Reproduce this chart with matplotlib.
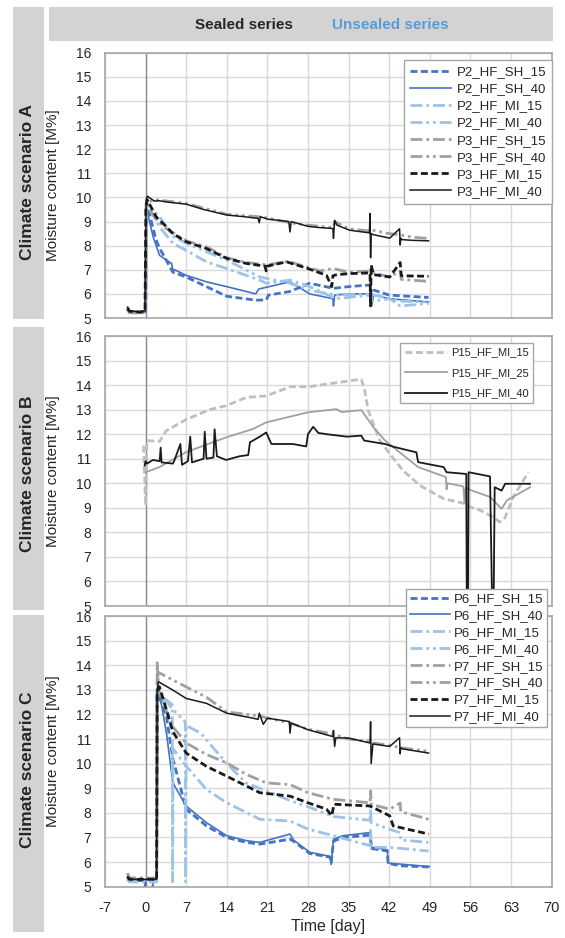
import matplotlib
matplotlib.use("Agg")
import matplotlib.pyplot as plt
from matplotlib.patches import Rectangle

plt.rcParams['font.family'] = ['Liberation Sans', 'DejaVu Sans']
plt.rcParams['axes.unicode_minus'] = False

# ---- Climate scenario A ----
a_p2_sh15_d = [-3.1, -2.8, -1, 0, 0.2, 1.8, 2.4, 4.7, 7, 10.5, 14, 19, 20.8, 21.2, 24.9, 28.3, 32.4, 35, 38.7, 39.3, 42, 48.8]
a_p2_sh15_v = [5.4, 5.25, 5.22, 5.25, 9.75, 8.24, 7.9, 6.9, 6.7, 6.3, 5.9, 5.74, 5.75, 5.95, 6.1, 6.44, 6.23, 6.3, 6.37, 6.16, 5.95, 5.85]
a_p2_sh40_d = [-3.1, -2.8, -1, 0, 0.2, 1.3, 2.4, 4.5, 4.7, 5, 7, 10.5, 14, 19, 19.5, 24.9, 28.3, 32.3, 32.4, 32.6, 35, 38.8, 39, 39.3, 42.1, 48.8]
a_p2_sh40_v = [5.4, 5.25, 5.22, 5.25, 9.47, 8.37, 7.6, 7.26, 6.98, 7.0, 6.77, 6.5, 6.3, 6.0, 6.2, 6.5, 6.0, 5.8, 5.5, 5.95, 6.0, 6.0, 5.5, 5.95, 5.8, 5.66]
a_p2_mi15_d = [-3.1, -2.8, -1, 0, 0.2, 2.4, 4.7, 7, 10.5, 14, 19.7, 20.8, 24.9, 28.3, 32.8, 38.7, 39, 42.1, 43.9, 48.8]
a_p2_mi15_v = [5.45, 5.28, 5.25, 5.28, 9.75, 8.78, 8.1, 7.8, 7.33, 7.05, 6.57, 6.44, 6.57, 6.3, 5.8, 5.95, 5.7, 5.8, 5.5, 5.6]
a_p2_mi40_d = [-3.1, -2.8, -1, 0, 0.2, 2.4, 4.7, 7, 10.5, 14, 19.7, 24.9, 28.3, 32.8, 38.7, 42.1, 43.9, 48.8]
a_p2_mi40_v = [5.45, 5.28, 5.25, 5.28, 9.7, 9.2, 8.4, 8.1, 7.75, 7.4, 6.7, 6.44, 6.15, 5.95, 6.0, 5.8, 5.7, 5.66]
a_p3_sh15_d = [-3.1, -2.8, -1, 0, 0.1, 1.8, 3.6, 7, 10.5, 14, 17.4, 21, 24.5, 28, 30, 32.4, 35, 38.8, 39, 42, 43.9, 44.1, 48.8]
a_p3_sh15_v = [5.35, 5.22, 5.2, 5.22, 9.7, 9.1, 8.7, 8.2, 7.95, 7.5, 7.3, 7.2, 7.35, 7.1, 6.95, 7.05, 6.9, 6.95, 6.9, 6.7, 6.95, 6.6, 6.52]
a_p3_sh40_d = [-3.1, -2.8, -1, 0, 0.1, 2, 7, 14, 19.5, 21, 24.9, 28, 32.4, 32.6, 35, 38.8, 39, 42, 43.9, 46, 48.8]
a_p3_sh40_v = [5.35, 5.25, 5.22, 5.25, 9.8, 9.9, 9.75, 9.3, 9.2, 9.15, 8.95, 8.85, 8.75, 9.0, 8.7, 8.6, 8.65, 8.5, 8.45, 8.35, 8.3]
a_p3_mi15_d = [-3.1, -2.8, -1, -0.1, 0.05, 0.3, 1.8, 3.6, 4.7, 7, 10.5, 14, 17.4, 20.6, 20.8, 21, 24.3, 28, 31.2, 32.1, 32.3, 33, 35.2, 38.7, 38.8, 38.9, 39.3, 42.1, 43.9, 44.1, 48.8]
a_p3_mi15_v = [5.4, 5.28, 5.25, 5.28, 9.6, 9.9, 9.2, 8.78, 8.5, 8.16, 7.88, 7.47, 7.26, 7.15, 6.95, 7.15, 7.33, 7.05, 6.77, 6.3, 6.75, 6.8, 6.84, 6.87, 5.5, 7.2, 6.8, 6.7, 7.3, 6.75, 6.73]
a_p3_mi40_d = [-3.1, -2.8, -1, -0.1, 0.1, 0.3, 1.5, 2.4, 4, 7, 10, 14, 17, 19.4, 19.6, 19.8, 21, 24.7, 24.9, 25.1, 28, 30, 32.3, 32.4, 32.6, 33, 35.2, 38.6, 38.7, 38.8, 38.9, 39.2, 42.1, 43.8, 43.9, 44.0, 44.2, 46, 48.8]
a_p3_mi40_v = [5.45, 5.3, 5.25, 5.3, 9.9, 10.05, 9.85, 9.86, 9.8, 9.72, 9.5, 9.27, 9.2, 9.13, 8.95, 9.2, 9.1, 9.0, 8.57, 9.0, 8.8, 8.75, 8.71, 8.3, 9.05, 8.85, 8.64, 8.53, 9.33, 7.5, 8.5, 8.46, 8.31, 8.7, 8.03, 8.3, 8.25, 8.22, 8.2]

# ---- Climate scenario B ----
b_mi15_d = [-0.35, 0, 0.23, 2.4, 3.57, 7.0, 11.05, 13.9, 17.4, 20.8, 24.9, 28.0, 32.4, 37.2, 37.8, 38.4, 40.4, 42.1, 44.4, 47.3, 51.4, 55.1, 56.0, 57.7, 59.4, 61.1, 62.0, 63.4, 66.0]
b_mi15_v = [11.53, 9.1, 11.74, 11.7, 12.14, 12.6, 13.0, 13.16, 13.5, 13.56, 13.93, 13.93, 14.08, 14.24, 13.77, 12.96, 11.74, 11.2, 10.52, 9.91, 9.37, 9.17, 9.03, 8.9, 8.69, 8.42, 8.6, 9.44, 10.45]
b_mi25_d = [0, 2.4, 7.0, 13.9, 18.5, 20.8, 28.0, 32.9, 33.8, 37.2, 39.3, 41.3, 42.7, 47.0, 51.8, 51.9, 52.1, 54.8, 55.0, 55.2, 59.4, 61.4, 62.3, 66.3]
b_mi25_v = [10.45, 10.66, 11.27, 11.87, 12.21, 12.48, 12.89, 13.02, 12.9, 12.98, 12.28, 11.74, 11.47, 10.66, 10.25, 9.75, 10.0, 9.87, 9.2, 9.8, 9.44, 8.96, 9.3, 9.84]
b_mi40_d = [-0.17, 0, 0.23, 1.27, 2.42, 2.6, 2.76, 4.72, 5.0, 6.0, 6.28, 7.3, 7.7, 8.0, 10.0, 10.2, 10.5, 11.7, 11.9, 12.3, 13.9, 16.2, 17.7, 18.0, 19.7, 20.8, 21.7, 25.4, 27.7, 28.0, 28.9, 29.8, 31.2, 34.7, 37.2, 37.7, 41.3, 42.7, 46.7, 47.0, 51.4, 51.9, 55.3, 55.4, 55.6, 55.7, 59.4, 59.8, 60.0, 60.2, 61.4, 62.0, 66.3]
b_mi40_v = [10.72, 10.9, 10.8, 10.95, 10.9, 11.45, 10.85, 10.8, 10.95, 11.6, 10.75, 10.9, 11.9, 10.85, 11.0, 12.1, 11.0, 11.05, 12.2, 11.1, 10.95, 11.1, 11.15, 11.67, 11.9, 12.07, 11.6, 11.6, 11.5, 12.0, 12.3, 12.05, 12.0, 11.9, 11.94, 11.74, 11.6, 11.49, 11.26, 10.86, 10.66, 10.45, 10.38, 4.5, 4.5, 10.45, 10.28, 4.5, 4.5, 9.84, 9.7, 9.98, 9.98]

# ---- Climate scenario C ----
c_p6_sh15_d = [-3.1, -2.8, -0.1, 0, 1.2, 1.3, 1.9, 2.0, 2.4, 3.6, 4.7, 7, 10.5, 14, 17.4, 19.7, 24.9, 25.5, 28.3, 31.8, 32.0, 32.4, 34, 38.7, 39.0, 41.7, 41.8, 44, 48.9]
c_p6_sh15_v = [5.35, 5.25, 5.25, 4.9, 4.9, 5.25, 5.25, 12.9, 12.7, 11.9, 10.2, 8.15, 7.47, 7.0, 6.8, 6.73, 6.93, 6.85, 6.35, 6.2, 5.95, 6.85, 7.0, 7.1, 6.55, 6.45, 5.95, 5.85, 5.8]
c_p6_sh40_d = [-3.1, -2.8, -0.1, 0, 1.2, 1.3, 1.9, 2.0, 2.4, 3.6, 4.7, 7, 10.5, 14, 17.4, 19.7, 24.9, 25.5, 28.3, 31.8, 32.0, 32.4, 34, 38.7, 39.0, 41.7, 41.8, 48.9]
c_p6_sh40_v = [5.35, 5.25, 5.25, 4.9, 4.9, 5.25, 5.25, 13.0, 12.85, 11.24, 9.22, 8.28, 7.6, 7.07, 6.87, 6.8, 7.14, 6.9, 6.4, 6.23, 5.9, 6.93, 7.07, 7.2, 6.6, 6.5, 5.96, 5.82]
c_p6_mi15_d = [-3.1, -2.8, 1.9, 2.0, 2.4, 4.6, 4.65, 4.75, 7, 10.5, 14, 19.7, 24.9, 28, 32.4, 38.7, 38.8, 38.9, 42.1, 48.8]
c_p6_mi15_v = [5.3, 5.2, 5.2, 12.8, 12.8, 12.4, 5.2, 10.6, 9.9, 8.95, 8.41, 7.74, 7.67, 7.34, 7.07, 6.67, 7.3, 6.6, 6.6, 6.45]
c_p6_mi40_d = [-3.1, -2.8, 1.9, 2.0, 2.4, 4.7, 6.85, 6.9, 7.0, 9.5, 14, 17.4, 20.8, 24.9, 28, 32.4, 38.7, 38.8, 38.9, 42.5, 43.9, 44.0, 48.8]
c_p6_mi40_v = [5.3, 5.2, 5.2, 13.0, 12.9, 12.2, 11.7, 5.2, 11.55, 11.24, 10.0, 9.2, 8.9, 8.5, 8.25, 7.85, 7.7, 8.3, 7.6, 7.3, 7.2, 6.9, 6.8]
c_p7_sh15_d = [-3.1, -2.8, -1, 1.9, 2.0, 2.1, 2.4, 4.7, 7, 10.5, 14, 17.4, 20.8, 24.9, 28, 32.4, 38.7, 38.8, 38.9, 42.1, 43.9, 44.0, 48.8]
c_p7_sh15_v = [5.55, 5.35, 5.35, 5.35, 14.1, 13.6, 12.85, 11.5, 10.84, 10.37, 10.03, 9.56, 9.22, 9.15, 8.82, 8.55, 8.41, 8.9, 8.35, 8.15, 8.4, 8.05, 7.74]
c_p7_sh40_d = [-3.1, -2.8, -1, 1.9, 2.0, 2.3, 4.7, 7, 10.5, 14, 19.5, 21, 24.9, 28, 32.4, 35, 38.8, 39, 42, 43.9, 48.8]
c_p7_sh40_v = [5.55, 5.35, 5.35, 5.35, 13.5, 13.7, 13.4, 13.12, 12.7, 12.1, 11.95, 11.85, 11.65, 11.4, 11.2, 11.0, 10.9, 10.85, 10.75, 10.65, 10.5]
c_p7_mi15_d = [-3.1, -2.8, -1, 1.9, 2.0, 2.4, 3.6, 4.7, 7, 10.5, 14, 17.4, 19.7, 24.9, 28, 31.2, 32.1, 32.5, 38.7, 42.1, 42.7, 48.8]
c_p7_mi15_v = [5.4, 5.3, 5.3, 5.3, 12.9, 13.12, 12.18, 11.3, 10.43, 9.89, 9.49, 9.09, 8.82, 8.68, 8.41, 8.15, 7.88, 8.35, 8.28, 7.88, 7.47, 7.14]
c_p7_mi40_d = [-3.1, -2.8, -1, 1.9, 2.0, 2.2, 4.7, 7.0, 10.5, 14, 18.5, 19.4, 19.6, 20.3, 21, 24.8, 24.9, 25.1, 28, 32.3, 32.4, 32.6, 32.8, 35, 38.7, 38.8, 38.9, 39.2, 42.1, 43.8, 43.9, 44.0, 44.3, 48.8]
c_p7_mi40_v = [5.4, 5.3, 5.3, 5.3, 13.0, 13.33, 12.99, 12.65, 12.45, 12.05, 11.85, 11.8, 12.05, 11.6, 11.85, 11.71, 11.24, 11.65, 11.38, 11.1, 11.35, 10.7, 11.05, 11.04, 10.84, 11.7, 10.0, 10.8, 10.7, 11.05, 10.4, 10.65, 10.6, 10.43]

x_ticks = [-7, 0, 7, 14, 21, 28, 35, 42, 49, 56, 63, 70]
y_ticks = [5, 6, 7, 8, 9, 10, 11, 12, 13, 14, 15, 16]

# colours / line styles (Excel look)
dblue = '#4472c4'
lblue = '#9dc3e6'
gray = '#a0a0a0'
black = '#1a1a1a'
dash = (0, (2.5, 1.25))
dashdot = (0, (4.3, 1.4, 1, 1.4))
dashdotdot = (0, (4.3, 1.4, 1, 1.4, 1, 1.4))
txt = '#262626'

W, H = 565, 938
fig = plt.figure(figsize=(W / 100, H / 100), dpi=100)


def box(x0, y0, x1, y1):
    # pixel box (top-left origin) -> figure rectangle
    fig.add_artist(Rectangle((x0 / W, 1 - y1 / H), (x1 - x0) / W, (y1 - y0) / H,
                             transform=fig.transFigure, facecolor='#d3d3d3',
                             edgecolor='none', zorder=0))


box(48.7, 7, 553, 41)
box(12.7, 7, 44.3, 319)
box(12.7, 327, 44.3, 610)
box(12.7, 615, 44.3, 932)
fig.text(244 / W, 1 - 25 / H, 'Sealed series', ha='center', va='center',
         fontsize=11, fontweight='bold', color=txt)
fig.text(390 / W, 1 - 25 / H, 'Unsealed series', ha='center', va='center',
         fontsize=11, fontweight='bold', color='#5b9bd5')
for lab, yc in [('A', 182), ('B', 474), ('C', 770)]:
    fig.text(28 / W, 1 - yc / H, 'Climate scenario ' + lab, rotation=90,
             ha='center', va='center', fontsize=12.5, fontweight='bold', color=txt)


def make_axes(top, bottom):
    ax = fig.add_axes([105 / W, 1 - bottom / H, 446.5 / W, (bottom - top) / H])
    ax.set_xlim(-7, 70)
    ax.set_ylim(5, 16)
    ax.set_xticks(x_ticks)
    ax.set_yticks(y_ticks)
    ax.grid(True, color='#d9d9d9', lw=1)
    ax.set_axisbelow(True)
    ax.axvline(0, color='#8c8c8c', lw=1, zorder=1.5)
    for s in ax.spines.values():
        s.set_color('#a6a6a6')
        s.set_linewidth(1.2)
    ax.tick_params(length=0, labelsize=10, labelcolor=txt)
    ax.tick_params(axis='y', pad=10)
    ax.tick_params(axis='x', labelsize=10.5, pad=10)
    ax.set_ylabel('Moisture content [M%]', fontsize=11, color=txt)
    ax.yaxis.set_label_coords(-0.1, 0.5)
    return ax


axA = make_axes(52.7, 318)
axB = make_axes(336, 606)
axC = make_axes(616, 886.7)
axA.tick_params(axis='x', labelbottom=False)
axB.tick_params(axis='x', labelbottom=False)

# panel A
axA.plot(a_p2_sh15_d, a_p2_sh15_v, color=dblue, ls=dash, lw=2, label='P2_HF_SH_15')
axA.plot(a_p2_sh40_d, a_p2_sh40_v, color=dblue, lw=1.2, label='P2_HF_SH_40')
axA.plot(a_p2_mi15_d, a_p2_mi15_v, color=lblue, ls=dashdot, lw=2, label='P2_HF_MI_15')
axA.plot(a_p2_mi40_d, a_p2_mi40_v, color=lblue, ls=dashdotdot, lw=2, label='P2_HF_MI_40')
axA.plot(a_p3_sh15_d, a_p3_sh15_v, color=gray, ls=dashdot, lw=2, label='P3_HF_SH_15')
axA.plot(a_p3_sh40_d, a_p3_sh40_v, color=gray, ls=dashdotdot, lw=2, label='P3_HF_SH_40')
axA.plot(a_p3_mi15_d, a_p3_mi15_v, color=black, ls=dash, lw=2, label='P3_HF_MI_15')
axA.plot(a_p3_mi40_d, a_p3_mi40_v, color=black, lw=1.1, label='P3_HF_MI_40')

# panel B
axB.plot(b_mi15_d, b_mi15_v, color='#bfbfbf', ls=dash, lw=2, label='P15_HF_MI_15')
axB.plot(b_mi25_d, b_mi25_v, color='#a0a0a0', lw=1.3, label='P15_HF_MI_25')
axB.plot(b_mi40_d, b_mi40_v, color=black, lw=1.3, label='P15_HF_MI_40')

# panel C
axC.plot(c_p6_sh15_d, c_p6_sh15_v, color=dblue, ls=dash, lw=2, label='P6_HF_SH_15')
axC.plot(c_p6_sh40_d, c_p6_sh40_v, color=dblue, lw=1.2, label='P6_HF_SH_40')
axC.plot(c_p6_mi15_d, c_p6_mi15_v, color=lblue, ls=dashdot, lw=2, label='P6_HF_MI_15')
axC.plot(c_p6_mi40_d, c_p6_mi40_v, color=lblue, ls=dashdotdot, lw=2, label='P6_HF_MI_40')
axC.plot(c_p7_sh15_d, c_p7_sh15_v, color=gray, ls=dashdot, lw=2, label='P7_HF_SH_15')
axC.plot(c_p7_sh40_d, c_p7_sh40_v, color=gray, ls=dashdotdot, lw=2, label='P7_HF_SH_40')
axC.plot(c_p7_mi15_d, c_p7_mi15_v, color=black, ls=dash, lw=2, label='P7_HF_MI_15')
axC.plot(c_p7_mi40_d, c_p7_mi40_v, color=black, lw=1.1, label='P7_HF_MI_40')
axC.set_xlabel('Time [day]', fontsize=11.5, color=txt, labelpad=3)

leg_kw = dict(frameon=True, fancybox=False, edgecolor='#a6a6a6',
              framealpha=1, borderaxespad=0)
lA = axA.legend(loc='upper right', bbox_to_anchor=(1.001, 0.9725), fontsize=9.5,
                labelspacing=0.37, handlelength=3.1, handletextpad=0.45,
                borderpad=0.45, **leg_kw)
lB = axB.legend(loc='upper right', bbox_to_anchor=(0.9586, 0.974), fontsize=8,
                labelspacing=0.95, handlelength=3.8, handletextpad=0.35,
                borderpad=0.4, **leg_kw)
lC = axC.legend(loc='upper right', bbox_to_anchor=(0.99, 1.0997), fontsize=9.5,
                labelspacing=0.35, handlelength=3.0, handletextpad=0.3,
                borderpad=0.3, **leg_kw)
for lg in (lA, lB, lC):
    lg.get_frame().set_linewidth(1.0)
    for t in lg.get_texts():
        t.set_color(txt)
lC.set_zorder(10)

fig.savefig('out.png', dpi=100)
